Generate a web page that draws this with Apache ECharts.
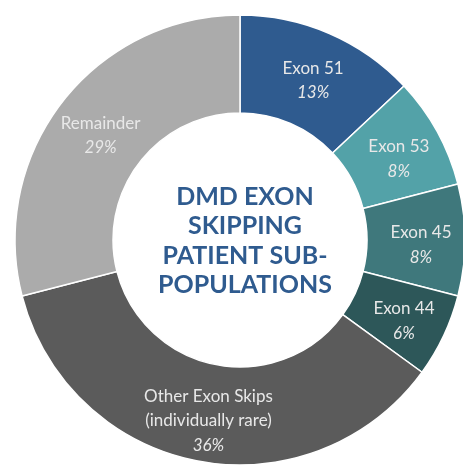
<!DOCTYPE html>
<html>
<head>
<meta charset="utf-8">
<script src="https://cdn.jsdelivr.net/npm/echarts@6/dist/echarts.min.js"></script>
<style>
  html, body { margin: 0; padding: 0; background: #fff; }
  #chart { width: 463px; height: 465px; }
</style>
</head>
<body>
<div id="chart"></div>
<script>
const categories = ['Exon 51', 'Exon 53', 'Exon 45', 'Exon 44', 'Other Exon Skips\n(individually rare)', 'Remainder']
const shares = [13, 8, 8, 6, 36, 29]
const sliceColors = ['#2f5b8f', '#53a2a8', '#3f787c', '#2d5759', '#5b5b5b', '#ababab']
const centerTitle = ['DMD EXON', 'SKIPPING', 'PATIENT SUB-', 'POPULATIONS']

const chart = echarts.init(document.getElementById('chart'))

const pieData = categories.map((name, i) => ({
  name,
  value: shares[i],
  itemStyle: { color: sliceColors[i] }
}))

const option = {
  backgroundColor: '#fff',
  animation: false,
  title: {
    text: centerTitle.join('\n'),
    left: 240,
    top: 236,
    textAlign: 'center',
    textVerticalAlign: 'middle',
    textStyle: {
      fontFamily: 'Lato',
      fontSize: 25,
      fontWeight: 'bold',
      color: '#2f5b8f',
      lineHeight: 29.5
    }
  },
  series: [
    {
      type: 'pie',
      center: [240, 240],
      radius: [127, 225],
      startAngle: 90,
      clockwise: true,
      silent: true,
      itemStyle: { borderColor: '#fff', borderWidth: 1.5 },
      labelLine: { show: false },
      label: {
        show: true,
        position: 'inside',
        offset: [2, 5],
        formatter: p => p.name.split('\n').map(s => '{n|' + s + '}').join('\n') + '\n{p|' + p.value + '%}',
        rich: {
          n: { fontFamily: 'Lato', fontSize: 17, color: '#e8e8e8', lineHeight: 24.5 },
          p: { fontFamily: 'Lato', fontSize: 17, fontStyle: 'italic', color: '#e8e8e8', lineHeight: 24.5 }
        }
      },
      data: pieData
    }
  ]
}

chart.setOption(option)
</script>
</body>
</html>
